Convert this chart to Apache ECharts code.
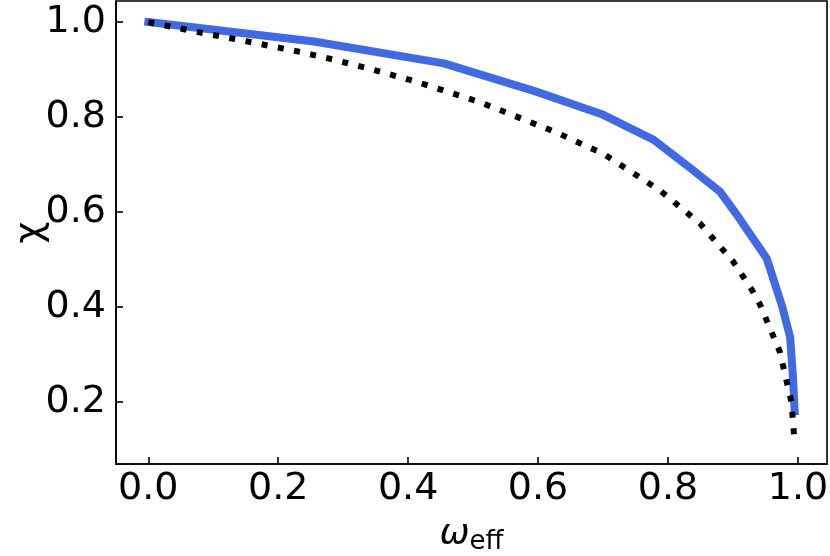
<!DOCTYPE html>
<html><head><meta charset="utf-8">
<script src="https://cdn.jsdelivr.net/npm/echarts@6/dist/echarts.min.js"></script>
<style>html,body{margin:0;padding:0;background:#fff}#c{width:830px;height:556px}</style>
</head><body><div id="c"></div>
<script>
const omegaBlue = [0, 0.255, 0.455, 0.596, 0.698, 0.778, 0.834, 0.880, 0.908, 0.952, 0.976, 0.988, 0.992, 0.995];
const chiBlue   = [1.0, 0.959, 0.913, 0.854, 0.806, 0.752, 0.693, 0.643, 0.590, 0.502, 0.400, 0.336, 0.260, 0.180];
const omegaDot  = [0, 0.08, 0.157, 0.234, 0.285, 0.337, 0.411, 0.511, 0.629, 0.701, 0.788, 0.849, 0.900, 0.929, 0.942, 0.972, 0.990, 0.995];
const chiDot    = [1.0, 0.978, 0.958, 0.937, 0.921, 0.903, 0.875, 0.831, 0.767, 0.722, 0.645, 0.576, 0.496, 0.436, 0.404, 0.306, 0.200, 0.113];
const xTicks = [0, 0.2, 0.4, 0.6, 0.8, 1.0];
const yTicks = [0.2, 0.4, 0.6, 0.8, 1.0];

const font = 'DejaVu Sans';
const chart = echarts.init(document.getElementById('c'), null, {renderer: 'canvas'});
const axisCommon = {
  axisLine: {show: true, onZero: false, lineStyle: {color: '#000', width: 1.6}},
  splitLine: {show: false},
  nameMoveOverlap: false,
};
chart.setOption({
  animation: false,
  backgroundColor: '#fff',
  grid: {left: 116, right: 3, top: 1, bottom: 92, show: true, borderColor: '#000', borderWidth: 1.6,
         containLabel: false, outerBoundsMode: 'none'},
  xAxis: Object.assign({
    type: 'value', min: -0.04975, max: 1.04475,
    axisTick: {show: true, inside: true, length: 7, customValues: xTicks, lineStyle: {color: '#000', width: 1.6}},
    axisLabel: {customValues: xTicks, formatter: v => v.toFixed(1), fontFamily: font, fontSize: 38, color: '#000', margin: 6},
    name: '{w|ω}{s|eff}', nameLocation: 'middle', nameGap: 51,
    nameTextStyle: {rich: {w: {fontFamily: font, fontSize: 36, fontStyle: 'italic', color: '#000'}, s: {fontFamily: font, fontSize: 26, color: '#000', padding: [14, 0, 0, 0]}}}
  }, axisCommon),
  yAxis: Object.assign({
    type: 'value', min: 0.069, max: 1.0444,
    axisTick: {show: true, inside: true, length: 7, customValues: yTicks, lineStyle: {color: '#000', width: 1.6}},
    axisLabel: {customValues: yTicks, formatter: v => v.toFixed(1), fontFamily: font, fontSize: 38, color: '#000', margin: 10},
    name: 'χ', nameLocation: 'middle', nameGap: 66, nameRotate: 90,
    nameTextStyle: {fontFamily: font, fontSize: 38, color: '#000'}
  }, axisCommon),
  series: [
    {type: 'line', data: omegaBlue.map((x, i) => [x, chiBlue[i]]), showSymbol: false, silent: true,
     lineStyle: {color: '#4169E1', width: 8, cap: 'square', join: 'round'}},
    {type: 'line', data: omegaDot.map((x, i) => [x, chiDot[i]]), showSymbol: false, silent: true,
     lineStyle: {color: '#000', width: 6, type: [6, 10.5], cap: 'butt'}}
  ]
});
</script></body></html>
